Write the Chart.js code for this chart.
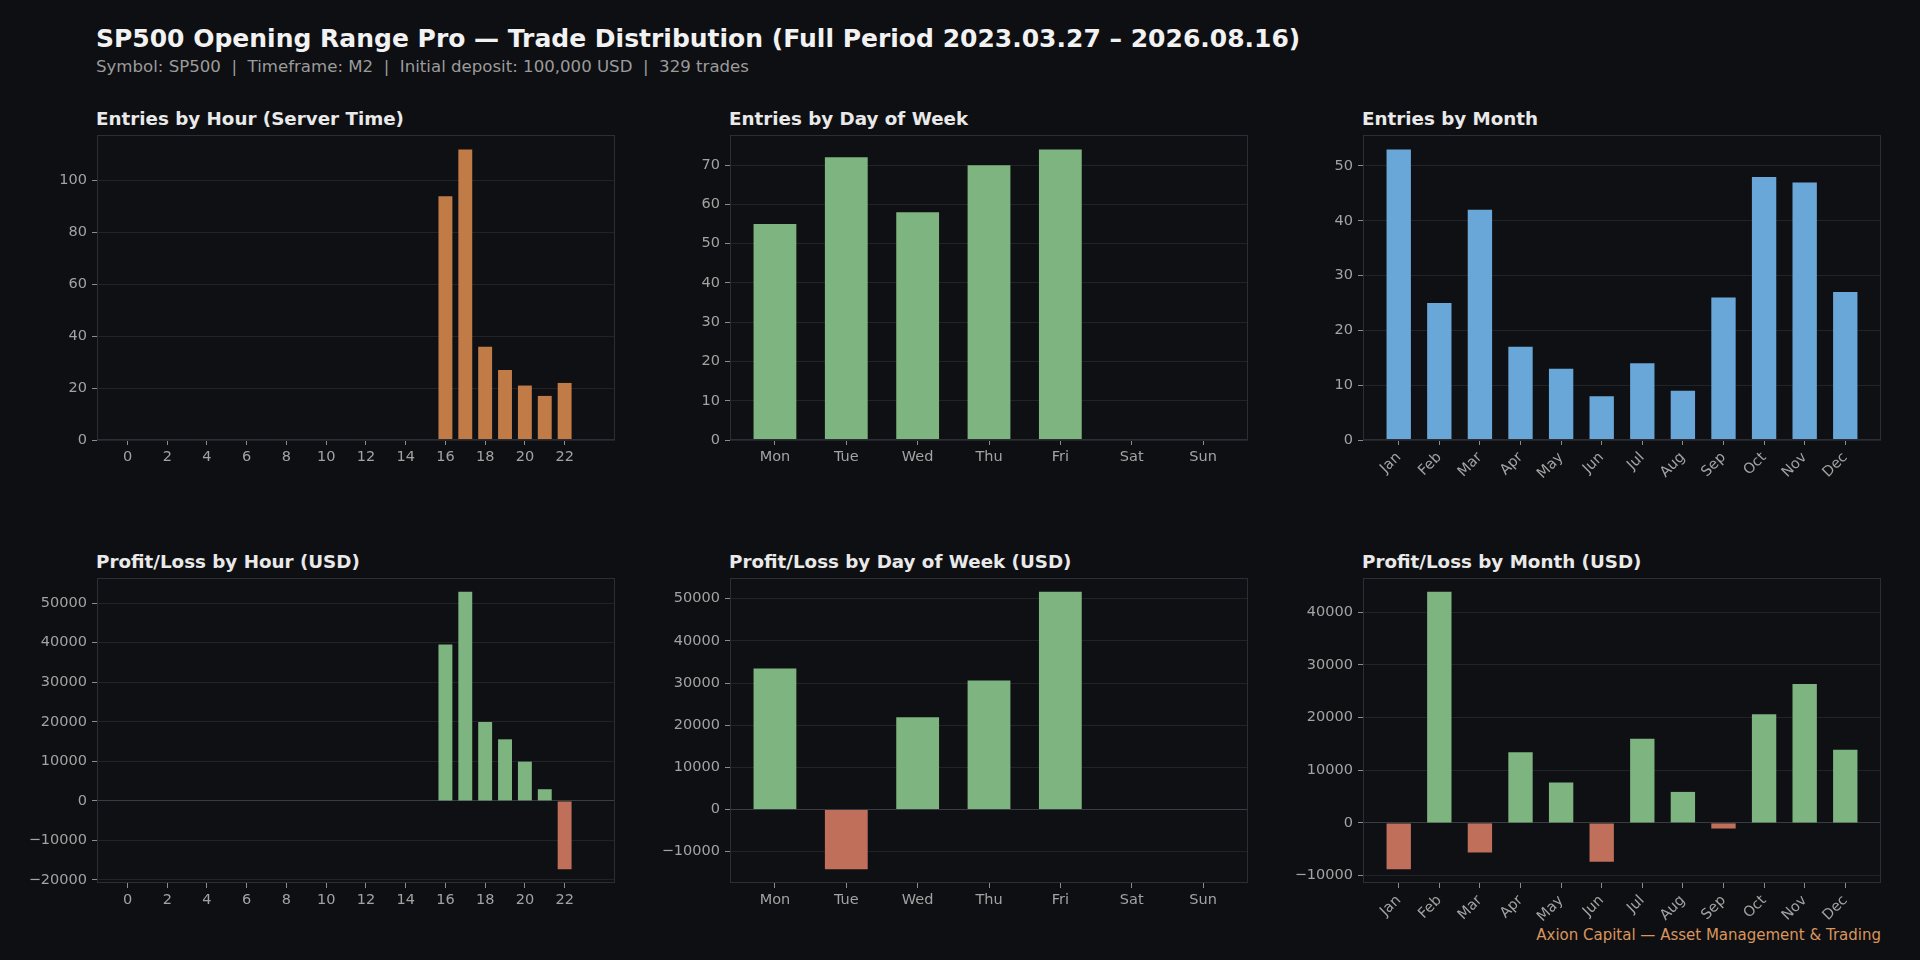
<!DOCTYPE html>
<html>
<head>
<meta charset="utf-8">
<script src="https://cdn.jsdelivr.net/npm/chart.js@4.4.1/dist/chart.umd.min.js"></script>
<style>
  html, body { margin: 0; padding: 0; background: #0e0f12; }
  body { width: 1920px; height: 960px; position: relative; overflow: hidden; font-family: "DejaVu Sans", sans-serif; }
  .abs { position: absolute; white-space: pre; }
  #title { left: 96px; top: 24px; font-size: 25px; font-weight: bold; color: #f2f2f2; line-height: 30px; }
  #subtitle { left: 96px; top: 57px; font-size: 16.6px; color: #9b9b9b; line-height: 20px; }
  .ptitle { font-size: 18.3px; font-weight: bold; color: #e9e9e9; line-height: 22px; }
  #footer { right: 39px; top: 926px; font-size: 15px; color: #d9955d; line-height: 18px; }
</style>
</head>
<body>
<div id="title" class="abs">SP500 Opening Range Pro — Trade Distribution (Full Period 2023.03.27 – 2026.08.16)</div>
<div id="subtitle" class="abs">Symbol: SP500  |  Timeframe: M2  |  Initial deposit: 100,000 USD  |  329 trades</div>
<div id="footer" class="abs">Axion Capital — Asset Management &amp; Trading</div>
<script>
// data
const hours = [0, 1, 2, 3, 4, 5, 6, 7, 8, 9, 10, 11, 12, 13, 14, 15, 16, 17, 18, 19, 20, 21, 22, 23];
const hourTicks = [0, 2, 4, 6, 8, 10, 12, 14, 16, 18, 20, 22];
const entriesByHour = [0, 0, 0, 0, 0, 0, 0, 0, 0, 0, 0, 0, 0, 0, 0, 0, 94, 112, 36, 27, 21, 17, 22, 0];
const pnlByHour = [0, 0, 0, 0, 0, 0, 0, 0, 0, 0, 0, 0, 0, 0, 0, 0, 39560, 52860, 19950, 15570, 9930, 2950, -17260, 0];

const days = ["Mon", "Tue", "Wed", "Thu", "Fri", "Sat", "Sun"];
const entriesByDay = [55, 72, 58, 70, 74, 0, 0];
const pnlByDay = [33460, -14130, 21860, 30620, 51620, 0, 0];

const months = ["Jan", "Feb", "Mar", "Apr", "May", "Jun", "Jul", "Aug", "Sep", "Oct", "Nov", "Dec"];
const entriesByMonth = [53, 25, 42, 17, 13, 8, 14, 9, 26, 48, 47, 27];
const pnlByMonth = [-8780, 43850, -5620, 13400, 7650, -7390, 15990, 5880, -1070, 20600, 26350, 13900];

const ORANGE = "#c17b47", GREEN = "#7eb480", BLUE = "#6aa7d9", RED = "#c0705a";
const GRID = "#212329", ZERO = "#3a3c44", SPINE = "#2c2e35", TICK = "#8c8c8c", LABEL = "#a3a3a3", FACE = "#0f1014";

// y tick labels add half a label height + padding above the plot, so keep PAD_T above that
const PLOT_W = 518, PLOT_H = 305, Y_AXIS_W = 90, X_AXIS_H = 70, PAD_T = 16, PAD_R = 10;

Chart.defaults.font.family = "'DejaVu Sans', sans-serif";
Chart.defaults.font.size = 14.5;
Chart.defaults.color = LABEL;

const posNeg = v => (v < 0 ? RED : GREEN);
const idx = arr => arr.map((_, i) => i);

const panels = [
  { title: "Entries by Hour (Server Time)", left: 97, top: 135, xs: hours, ticks: hourTicks, name: v => String(v), ys: entriesByHour, w: 0.7, step: 20, color: () => ORANGE, rot: 0 },
  { title: "Entries by Day of Week", left: 730, top: 135, xs: idx(days), ticks: idx(days), name: v => days[v], ys: entriesByDay, w: 0.6, step: 10, color: () => GREEN, rot: 0 },
  { title: "Entries by Month", left: 1363, top: 135, xs: idx(months), ticks: idx(months), name: v => months[v], ys: entriesByMonth, w: 0.6, step: 10, color: () => BLUE, rot: 45 },
  { title: "Profit/Loss by Hour (USD)", left: 97, top: 578, xs: hours, ticks: hourTicks, name: v => String(v), ys: pnlByHour, w: 0.7, step: 10000, color: posNeg, rot: 0 },
  { title: "Profit/Loss by Day of Week (USD)", left: 730, top: 578, xs: idx(days), ticks: idx(days), name: v => days[v], ys: pnlByDay, w: 0.6, step: 10000, color: posNeg, rot: 0 },
  { title: "Profit/Loss by Month (USD)", left: 1363, top: 578, xs: idx(months), ticks: idx(months), name: v => months[v], ys: pnlByMonth, w: 0.6, step: 10000, color: posNeg, rot: 45 }
];

const frame = {
  id: "frame",
  beforeDraw(chart) {
    const a = chart.chartArea, c = chart.ctx;
    c.save();
    c.fillStyle = FACE;
    c.fillRect(a.left, a.top, a.right - a.left, a.bottom - a.top);
    c.restore();
  },
  afterDraw(chart) {
    const a = chart.chartArea, c = chart.ctx;
    c.save();
    c.strokeStyle = SPINE;
    c.lineWidth = 1;
    c.strokeRect(Math.round(a.left) + 0.5, Math.round(a.top) + 0.5, Math.round(a.right - a.left) - 1, Math.round(a.bottom - a.top) - 1);
    c.restore();
  }
};

const fmt = v => (v < 0 ? "\u2212" + Math.abs(v) : String(v));

// multiples of step inside [min, max]
function stepTicks(min, max, step) {
  const out = [];
  for (let v = Math.ceil(min / step) * step; v <= max + 1e-9; v += step) out.push({ value: v });
  return out;
}

panels.forEach(p => {
  const t = document.createElement("div");
  t.className = "abs ptitle";
  t.style.left = (p.left - 1) + "px";
  t.style.top = (p.top - 27) + "px";
  t.textContent = p.title;
  document.body.appendChild(t);

  const cv = document.createElement("canvas");
  const cw = Y_AXIS_W + PLOT_W + PAD_R, ch = PAD_T + PLOT_H + X_AXIS_H;
  cv.width = cw; cv.height = ch;
  cv.style.cssText = `position:absolute;left:${p.left - Y_AXIS_W}px;top:${p.top - PAD_T}px;width:${cw}px;height:${ch}px;`;
  document.body.appendChild(cv);

  // matplotlib-like limits: 5% margins, bars stick to zero
  const xlo0 = p.xs[0] - p.w / 2, xhi0 = p.xs[p.xs.length - 1] + p.w / 2;
  const xm = 0.05 * (xhi0 - xlo0);
  const lo = Math.min(0, ...p.ys), hi = Math.max(0, ...p.ys);
  const ym = 0.05 * (hi - lo);
  const ymin = lo < 0 ? lo - ym : 0, ymax = hi + ym;

  new Chart(cv, {
    type: "bar",
    data: {
      datasets: [{
        data: p.xs.map((x, i) => ({ x: x, y: p.ys[i] })),
        backgroundColor: ctx => p.color(ctx.raw ? ctx.raw.y : 0),
        borderWidth: 0,
        barPercentage: p.w,
        categoryPercentage: 1
      }]
    },
    options: {
      responsive: false,
      animation: false,
      events: [],
      layout: { padding: { top: PAD_T, right: PAD_R, left: 0, bottom: 0 } },
      plugins: { legend: { display: false }, tooltip: { enabled: false } },
      scales: {
        x: {
          type: "linear",
          min: xlo0 - xm,
          max: xhi0 + xm,
          offset: false,
          afterBuildTicks: s => { s.ticks = p.ticks.map(v => ({ value: v })); },
          afterFit: s => { s.height = X_AXIS_H; },
          grid: { display: true, drawOnChartArea: false, drawTicks: true, tickLength: 5, tickColor: TICK, offset: false },
          border: { display: false },
          ticks: { color: LABEL, padding: 4, autoSkip: false, maxRotation: p.rot, minRotation: p.rot, callback: v => p.name(v) }
        },
        y: {
          min: ymin,
          max: ymax,
          afterBuildTicks: s => { s.ticks = stepTicks(ymin, ymax, p.step); },
          afterFit: s => { s.width = Y_AXIS_W; },
          grid: { color: ctx => (ctx.tick && ctx.tick.value === 0 && lo < 0 ? ZERO : GRID), tickColor: TICK, tickLength: 5 },
          border: { display: false },
          ticks: { color: LABEL, padding: 5, callback: fmt }
        }
      }
    },
    plugins: [frame]
  });
});
</script>
</body>
</html>
